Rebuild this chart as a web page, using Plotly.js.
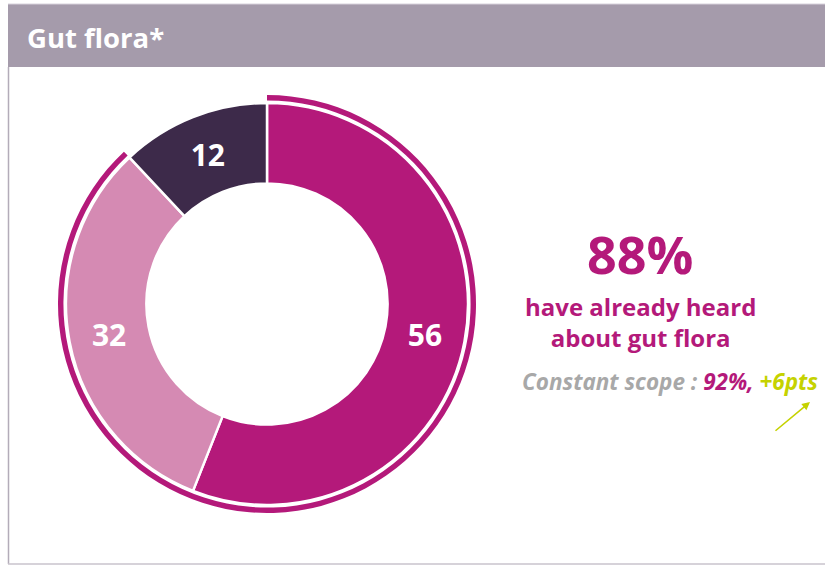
<!DOCTYPE html>
<html><head><meta charset="utf-8">
<script src="https://cdn.plot.ly/plotly-3.0.1.min.js"></script>
<style>html,body{margin:0;padding:0;background:#fff}#chart{width:825px;height:566px}</style>
</head><body><div id="chart"></div>
<script>
// Data
const sliceLabels = ["Heard, know", "Heard, don't know", "Never heard"];
const sliceValues = [56, 32, 12];
const sliceColors = ["#b4197a", "#d58ab3", "#3d2a4a"];
const ringValues = [88, 12];
const headline = "88%";
const subLines = ["have already heard", "about gut flora"];
const scopeParts = ["Constant scope : ", "92%,", " +6pts"];
const title = "Gut flora*";

const W = 825, H = 566;
const cx = 267, cy = 304, r = 201, rr = 209;
const px = v => v / W, py = v => 1 - v / H;

const fontFam = "'Open Sans', Lato, sans-serif";

const data = [
  {
    type: "pie", labels: sliceLabels, values: sliceValues, sort: false,
    direction: "clockwise", rotation: 0, hole: 0.6,
    marker: {colors: sliceColors, line: {color: "#ffffff", width: 2.5}},
    textinfo: "value", textposition: "inside", insidetextorientation: "horizontal",
    textfont: {family: fontFam, size: 30, color: "#ffffff", weight: 700},
    domain: {x: [px(cx - r), px(cx + r)], y: [py(cy + r), py(cy - r)]},
    hoverinfo: "label+value", showlegend: false
  },
  {
    type: "pie", labels: ["ring", "gap"], values: ringValues, sort: false,
    direction: "clockwise", rotation: 0, hole: 0.974,
    marker: {colors: [sliceColors[0], "rgba(0,0,0,0)"], line: {width: 0}},
    textinfo: "none", hoverinfo: "skip",
    domain: {x: [px(cx - rr), px(cx + rr)], y: [py(cy + rr), py(cy - rr)]},
    showlegend: false
  }
];

const layout = {
  width: W, height: H, margin: {l: 0, r: 0, t: 0, b: 0},
  paper_bgcolor: "#ffffff", plot_bgcolor: "#ffffff", showlegend: false,
  shapes: [
    {type: "rect", xref: "paper", yref: "paper", x0: px(8), x1: 1.01, y0: py(67), y1: py(4),
     fillcolor: "#a59bab", line: {width: 0}, layer: "below"},
    {type: "line", xref: "paper", yref: "paper", x0: px(8), x1: 1.01, y0: py(4), y1: py(4),
     line: {color: "#d8d2dc", width: 1}},
    {type: "line", xref: "paper", yref: "paper", x0: px(8.5), x1: px(8.5), y0: py(67), y1: py(564),
     line: {color: "#b3acb9", width: 1.5}},
    {type: "line", xref: "paper", yref: "paper", x0: px(8), x1: 1.01, y0: py(564), y1: py(564),
     line: {color: "#c9c3cd", width: 1.5}}
  ],
  annotations: [
    {xref: "paper", yref: "paper", x: px(25), y: py(37), xanchor: "left", yanchor: "middle",
     text: "<b>" + title + "</b>", showarrow: false,
     font: {family: fontFam, size: 27.5, color: "#ffffff"}},
    {xref: "paper", yref: "paper", x: px(640), y: py(253), xanchor: "center", yanchor: "middle",
     text: "<b>" + headline + "</b>", showarrow: false,
     font: {family: fontFam, size: 52, color: "#b4197a"}},
    {xref: "paper", yref: "paper", x: px(640), y: py(322), xanchor: "center", yanchor: "middle",
     text: "<b>" + subLines.join("<br>") + "</b>", showarrow: false,
     font: {family: fontFam, size: 24, color: "#b4197a"}},
    {xref: "paper", yref: "paper", x: px(670), y: py(381), xanchor: "center", yanchor: "middle",
     text: "<b><i><span style='color:#a8a8a8'>" + scopeParts[0] + "</span><span style='color:#b4197a'>" +
           scopeParts[1] + "</span><span style='color:#c5d200'>" + scopeParts[2] + "</span></i></b>",
     showarrow: false, font: {family: fontFam, size: 22.5, color: "#a8a8a8"}},
    {xref: "paper", yref: "paper", x: px(810), y: py(402), ax: -36, ay: 30,
     text: "", showarrow: true, arrowhead: 2, arrowsize: 1, arrowwidth: 1.6, arrowcolor: "#c5d200"}
  ]
};

Plotly.newPlot("chart", data, layout, {displayModeBar: false, staticPlot: true});
</script>
</body></html>
